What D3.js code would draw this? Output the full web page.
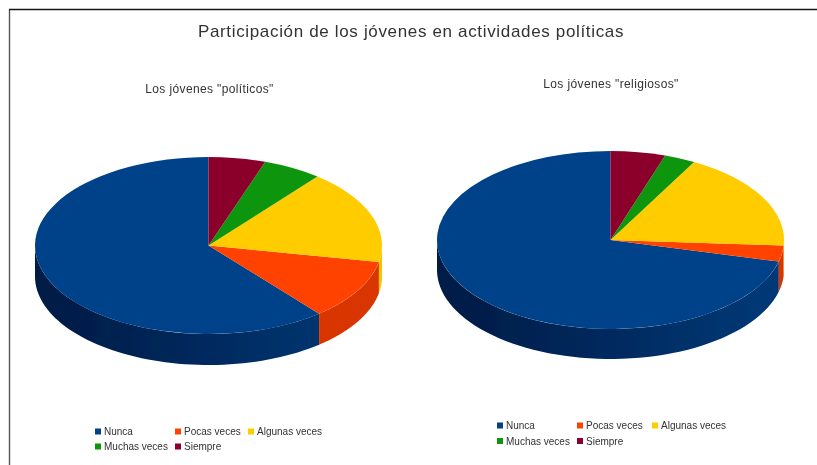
<!DOCTYPE html>
<html><head><meta charset="utf-8">
<script src="https://cdn.jsdelivr.net/npm/d3@7"></script>
<style>html,body{margin:0;padding:0;background:#fff}svg{display:block}text{font-family:"Liberation Sans",Arial,sans-serif}</style>
</head><body><div id="c"></div>
<script>
const title = "Participación de los jóvenes en actividades políticas";
const categories = ["Nunca","Pocas veces","Algunas veces","Muchas veces","Siempre"];
const colors = ["#03428a","#ff4200","#ffcc00","#0f960a","#8b0029"];
const sideDark = ["#001a45","#d83400","#f5c400","#0a6a08","#600020"];
const sideLight = ["#033a78","#d83400","#f5c400","#0a6a08","#600020"];
const politicos = [61,11,17.2,5.5,5.3];
const religiosos = [71.1,2.9,18,2.9,5.1];
const W=817,H=465;
const svg=d3.select("#c").append("svg").attr("width",W).attr("height",H);
const defs=svg.append("defs");
defs.append("filter").attr("id","b").append("feGaussianBlur").attr("stdDeviation",0.55);
defs.append("filter").attr("id","bt").append("feGaussianBlur").attr("stdDeviation",0.45);
defs.append("filter").attr("id","bs").append("feGaussianBlur").attr("stdDeviation",0.7);
const pie=d3.pie().sort(null).startAngle(0).endAngle(-2*Math.PI);
svg.append("path").attr("d",d3.line()([[9.5,H],[9.5,9.5]])).attr("fill","none").attr("stroke","#555").attr("stroke-width",1.4);
svg.append("path").attr("d",d3.line()([[9,9.5],[W,9.5]])).attr("fill","none").attr("stroke","#151515").attr("stroke-width",1.5);
svg.append("text").attr("x",411).attr("y",36.5).attr("text-anchor","middle").attr("font-size",17).attr("letter-spacing",0.66).attr("fill","#333").attr("filter","url(#bt)").text(title);

function drawPie(cfg){
  const g=svg.append("g").attr("filter","url(#b)");
  const {cx,cy,rx,ry,depth,values,id}=cfg;
  const X=d3.scaleLinear().domain([-1,1]).range([cx-rx,cx+rx]);
  const Y=d3.scaleLinear().domain([-1,1]).range([cy+ry,cy-ry]);
  const arcs=pie(values).map((d,i)=>({...d,i}));
  const grad=defs.append("linearGradient").attr("id","side"+id).attr("gradientUnits","userSpaceOnUse")
    .attr("x1",cx-rx).attr("x2",cx+rx).attr("y1",0).attr("y2",0);
  grad.append("stop").attr("offset",0).attr("stop-color",sideDark[0]);
  grad.append("stop").attr("offset",1).attr("stop-color",sideLight[0]);
  arcs.forEach(d=>{
    const a0=Math.min(d.startAngle,d.endAngle),a1=Math.max(d.startAngle,d.endAngle);
    const lo=Math.max(a0,-1.5*Math.PI),hi=Math.min(a1,-0.5*Math.PI);
    if(hi<=lo)return;
    const n=60,pts=d3.range(n+1).map(k=>lo+(hi-lo)*k/n);
    const area=d3.area().x(a=>X(Math.sin(a))).y0(a=>Y(Math.cos(a))).y1(a=>Y(Math.cos(a))+depth);
    g.append("path").attr("d",area(pts)).attr("fill",d.i===0?`url(#side${id})`:sideDark[d.i]);
  });
  const top=g.append("g").attr("transform",`translate(${cx},${cy}) scale(1,${ry/rx})`);
  const arc=d3.arc().innerRadius(0).outerRadius(rx);
  top.selectAll("path").data(arcs).join("path").attr("d",arc).attr("fill",d=>colors[d.i]);
}
drawPie({id:"a",cx:208.5,cy:245.5,rx:173.5,ry:88.5,depth:31,values:politicos});
drawPie({id:"b",cx:610.5,cy:240,rx:173.5,ry:89,depth:30,values:religiosos});

function subtitle(x,y,s){
  svg.append("text").attr("x",x).attr("y",y).attr("text-anchor","middle").attr("font-size",12).attr("letter-spacing",0.37).attr("fill","#333").attr("filter","url(#bs)").text(s);
}
subtitle(209.5,93,'Los jóvenes "políticos"');
subtitle(611,88,'Los jóvenes "religiosos"');

function legend(x0,y0,colX,rowH){
  const g=svg.append("g").attr("filter","url(#bs)");
  const layout=[[0,0],[1,0],[2,0],[0,1],[1,1]];
  categories.forEach((c,i)=>{
    const [cl,r]=layout[i],x=x0+colX[r][cl],y=y0+r*rowH;
    g.append("rect").attr("x",x).attr("y",y-3).attr("width",6).attr("height",6).attr("fill",colors[i]);
    g.append("text").attr("x",x+9).attr("y",y+3.5).attr("font-size",10).attr("fill","#333").text(c);
  });
}
legend(95,431.5,[[0,80,153],[0,80]],15);
legend(497,425.5,[[0,80,155],[0,80]],15.5);
</script></body></html>
